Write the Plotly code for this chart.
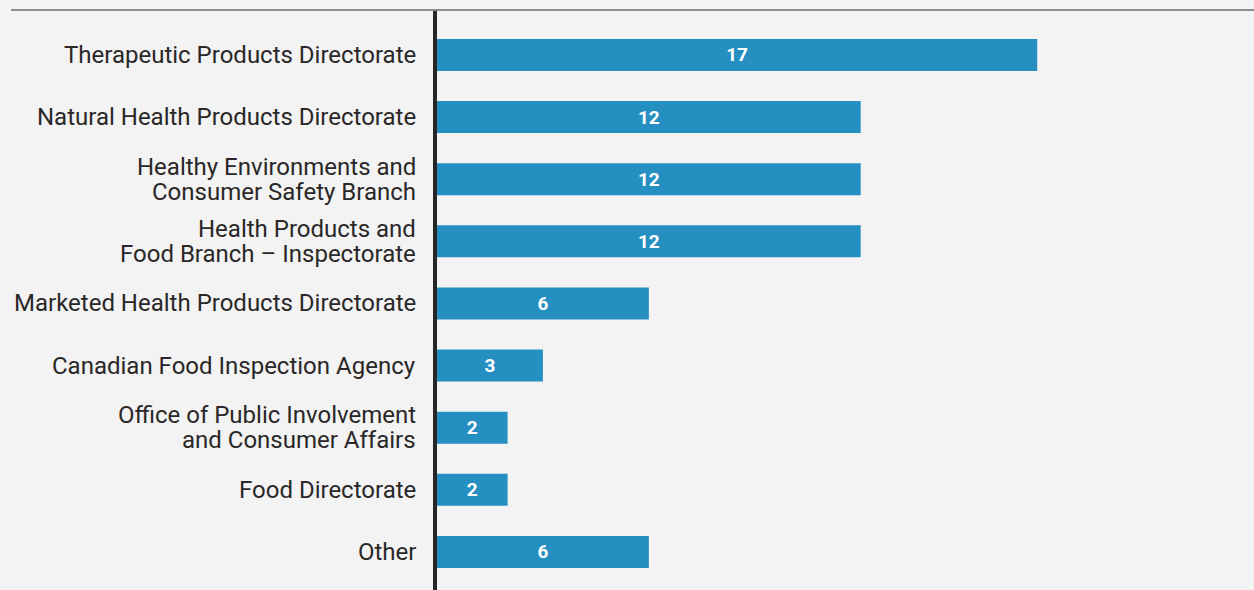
import plotly.graph_objects as go

categories = [
    "Therapeutic Products Directorate",
    "Natural Health Products Directorate",
    "Healthy Environments and<br>Consumer Safety Branch",
    "Health Products and<br>Food Branch – Inspectorate",
    "Marketed Health Products Directorate",
    "Canadian Food Inspection Agency",
    "Office of Public Involvement<br>and Consumer Affairs",
    "Food Directorate",
    "Other",
]
values = [17, 12, 12, 12, 6, 3, 2, 2, 6]

BAR = "#268fc2"
BG = "#f2f3f2"
TXT = "#2a2728"
FONT = "Roboto"

fig = go.Figure(
    go.Bar(
        x=values,
        y=categories,
        orientation="h",
        marker=dict(color=BAR, line=dict(width=0)),
        width=0.515,
        text=[str(v) for v in values],
        textposition="inside",
        insidetextanchor="middle",
        textangle=0,
        textfont=dict(family=FONT, size=19, color="white", weight="bold"),
        hoverinfo="skip",
    )
)

annotations = []
for cat in categories:
    lines = cat.split("<br>")
    n = len(lines)
    for i, ln in enumerate(lines):
        shift = ((n - 1) / 2 - i) * 25
        annotations.append(
            dict(
                x=0, xref="paper", y=cat, yref="y",
                text=ln, showarrow=False,
                xanchor="right", yanchor="middle",
                xshift=-19, yshift=shift,
                font=dict(family=FONT, size=24, color=TXT),
            )
        )

fig.update_layout(
    width=1254, height=590,
    margin=dict(l=437, r=0, t=10, b=0),
    paper_bgcolor=BG, plot_bgcolor=BG,
    showlegend=False,
    xaxis=dict(range=[0, 23.14], showgrid=False, zeroline=False,
               showticklabels=False, ticks="", showline=False, fixedrange=True),
    yaxis=dict(range=[8.612, -0.724], showgrid=False, zeroline=False,
               showticklabels=False, ticks="", showline=True,
               linecolor="#262626", linewidth=4, fixedrange=True),
    annotations=annotations,
    shapes=[dict(type="line", xref="paper", yref="paper",
                 x0=(11 - 437) / 817, x1=1, y0=1, y1=1,
                 line=dict(color="#8c8c8c", width=2), layer="above")],
)

fig.write_html("out.html", config={"displayModeBar": False})
